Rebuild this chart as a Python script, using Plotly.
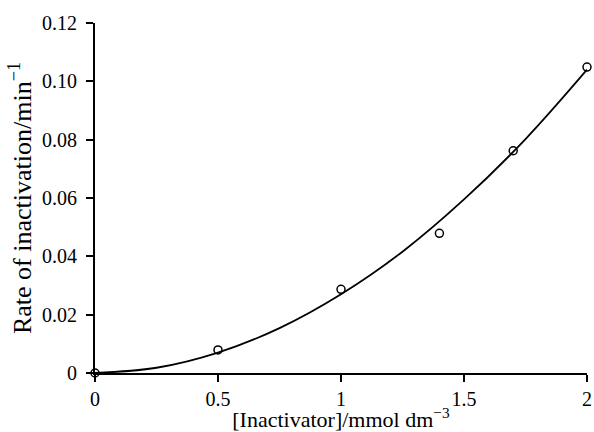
import plotly.graph_objects as go

# measured data points
conc = [0, 0.5, 1.0, 1.4, 1.7, 2.0]
rate = [0, 0.0079, 0.0287, 0.0479, 0.0762, 0.1049]

# fitted curve
curve_x = [0, 0.25, 0.5, 0.75, 1.0, 1.25, 1.5, 1.75, 2.0]
curve_y = [0, 0.0018, 0.0070, 0.0154, 0.0270, 0.0416, 0.0595, 0.0802, 0.1040]

x_ticks = [0, 0.5, 1, 1.5, 2]
x_labels = ["0", "0.5", "1", "1.5", "2"]
y_ticks = [0, 0.02, 0.04, 0.06, 0.08, 0.10, 0.12]
y_labels = ["0", "0.02", "0.04", "0.06", "0.08", "0.10", "0.12"]

fam = "Liberation Serif, Times New Roman, serif"
tick_font = dict(family=fam, size=20, color="black")
xtitle_font = dict(family=fam, size=22, color="black")
ytitle_font = dict(family=fam, size=26, color="black")

fig = go.Figure()
fig.add_trace(go.Scatter(x=curve_x, y=curve_y, mode="lines",
                         line=dict(color="black", width=1.8, shape="spline"),
                         cliponaxis=False, hoverinfo="skip"))
fig.add_trace(go.Scatter(x=conc, y=rate, mode="markers",
                         marker=dict(symbol="circle-open", size=8, color="black",
                                     line=dict(width=1.5, color="black")),
                         cliponaxis=False))

fig.update_layout(
    width=594, height=432,
    margin=dict(l=95, r=7, t=23, b=59, autoexpand=False),
    paper_bgcolor="white", plot_bgcolor="white",
    showlegend=False, font=tick_font,
    xaxis=dict(range=[0, 2], tickvals=x_ticks, ticktext=x_labels,
               showline=True, linecolor="black", linewidth=1.8,
               ticks="outside", ticklen=7, tickwidth=1.8, tickcolor="black",
               showgrid=False, zeroline=False, automargin=False,
               tickfont=tick_font, ticklabelstandoff=0,
               title=dict(text="[Inactivator]/mmol dm<sup>−3</sup>", standoff=5, font=xtitle_font)),
    yaxis=dict(range=[0, 0.12], tickvals=y_ticks, ticktext=y_labels,
               showline=True, linecolor="black", linewidth=1.8,
               ticks="outside", ticklen=7, tickwidth=1.8, tickcolor="black",
               showgrid=False, zeroline=False, automargin=False,
               tickfont=tick_font, ticklabelstandoff=5,
               title=dict(text="Rate of inactivation/min<sup>−1</sup>", standoff=3, font=ytitle_font)),
)

# remove the page's default body margin so the figure sits at the window's corner
fig.write_html("out.html",
               config={"displayModeBar": False},
               post_script="document.body.style.margin='0';document.body.style.overflow='hidden';")
